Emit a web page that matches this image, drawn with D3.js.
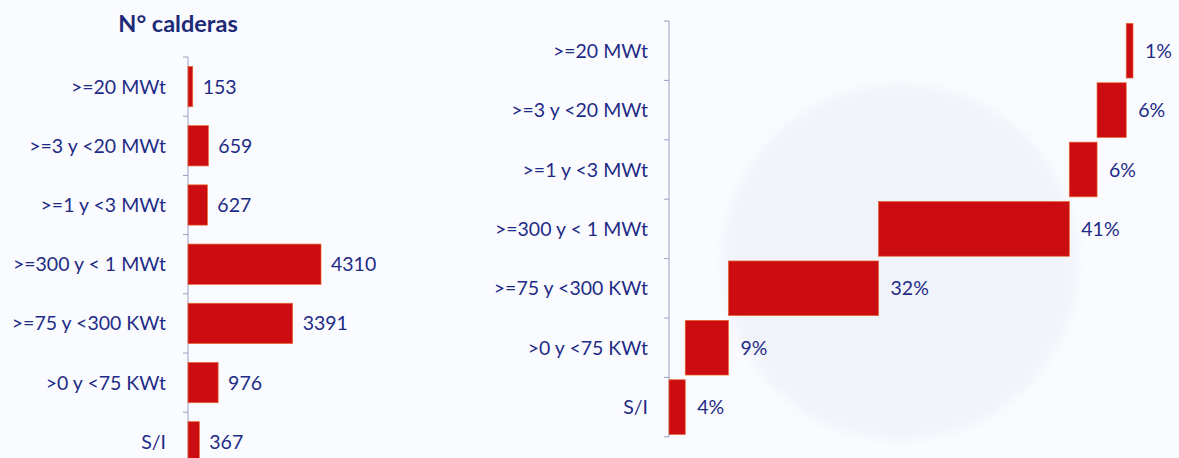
<!DOCTYPE html>
<html>
<head>
<meta charset="utf-8">
<script src="https://cdn.jsdelivr.net/npm/d3@7"></script>
<style>
  html, body { margin: 0; padding: 0; background: #fafbfe; }
  svg { display: block; }
  text { font-family: Lato, "Open Sans", sans-serif; }
</style>
</head>
<body>
<svg id="chart" width="1179" height="458"></svg>
<script>
// Boiler ranges (top to bottom) and number of boilers in each
const categories = [">=20 MWt", ">=3 y <20 MWt", ">=1 y <3 MWt", ">=300 y < 1 MWt", ">=75 y <300 KWt", ">0 y <75 KWt", "S/I"];
const counts = [153, 659, 627, 4310, 3391, 976, 367];
const titleText = "N° calderas";

const navy = "#1e2b86";
const red = "#cb0d12";
const edge = "#e8642a";

const svg = d3.select("#chart");

// faint printed disc showing through the page
const defs = svg.append("defs");
defs.append("filter").attr("id", "soft")
  .append("feGaussianBlur").attr("stdDeviation", 6);
svg.append("circle")
  .attr("cx", 900).attr("cy", 262).attr("r", 178)
  .attr("fill", "#e6e9f7").attr("opacity", 0.4)
  .attr("filter", "url(#soft)");

// ---------- Left: number of boilers per range ----------
const L = { axisX: 188, top: 57, step: 59.2 };
const yL = d3.scaleBand().domain(categories)
  .range([L.top, L.top + L.step * categories.length])
  .paddingInner(0.32).paddingOuter(0.16);
const xL = d3.scaleLinear().domain([0, 5000]).range([L.axisX, L.axisX + 154.3]);

const gL = svg.append("g");
gL.append("text")
  .attr("x", 178).attr("y", 32)
  .attr("text-anchor", "middle")
  .attr("font-size", 23.5).attr("font-weight", 700)
  .attr("fill", "#1c2a78")
  .text(titleText);

// axis line with ticks between categories
const ticksL = d3.range(categories.length + 1).map(i => L.top + i * L.step);
gL.append("line")
  .attr("x1", L.axisX).attr("x2", L.axisX)
  .attr("y1", L.top).attr("y2", L.top + L.step * categories.length)
  .attr("stroke", "#9aa1c4").attr("stroke-width", 1);
gL.selectAll(".tk").data(ticksL).join("line")
  .attr("x1", L.axisX - 5).attr("x2", L.axisX)
  .attr("y1", d => d).attr("y2", d => d)
  .attr("stroke", "#9aa1c4");

gL.selectAll(".cat").data(categories).join("text")
  .attr("x", L.axisX - 22)
  .attr("y", d => yL(d) + yL.bandwidth() / 2)
  .attr("dy", "0.36em")
  .attr("text-anchor", "end")
  .attr("font-size", 19.5).attr("fill", navy)
  .text(d => d);

gL.selectAll(".bar").data(counts).join("rect")
  .attr("x", xL(0))
  .attr("y", (d, i) => yL(categories[i]))
  .attr("width", d => xL(d) - xL(0))
  .attr("height", yL.bandwidth())
  .attr("fill", red)
  .attr("stroke", edge).attr("stroke-width", 0.7);

gL.selectAll(".val").data(counts).join("text")
  .attr("x", d => xL(d) + 10)
  .attr("y", (d, i) => yL(categories[i]) + yL.bandwidth() / 2)
  .attr("dy", "0.36em")
  .attr("font-size", 19.5).attr("fill", navy)
  .text(d => d);

// ---------- Right: share of each range, stacked from the bottom ----------
const total = d3.sum(counts);
const shares = counts.map(c => c / total);
// cumulative start of each range, accumulating from "S/I" upwards
const starts = [];
let acc = 0;
for (let i = categories.length - 1; i >= 0; i--) { starts[i] = acc; acc += shares[i]; }

const R = { axisX: 669, top: 21, step: 59.4 };
const yR = d3.scaleBand().domain(categories)
  .range([R.top, R.top + R.step * categories.length])
  .paddingInner(0.08).paddingOuter(0.04);
const xR = d3.scaleLinear().domain([0, 1]).range([R.axisX, R.axisX + 464]);

const gR = svg.append("g");
const ticksR = d3.range(categories.length + 1).map(i => R.top + i * R.step);
gR.append("line")
  .attr("x1", R.axisX).attr("x2", R.axisX)
  .attr("y1", R.top).attr("y2", R.top + R.step * categories.length)
  .attr("stroke", "#9aa1c4").attr("stroke-width", 1);
gR.selectAll(".tk").data(ticksR).join("line")
  .attr("x1", R.axisX - 5).attr("x2", R.axisX)
  .attr("y1", d => d).attr("y2", d => d)
  .attr("stroke", "#9aa1c4");

gR.selectAll(".cat").data(categories).join("text")
  .attr("x", R.axisX - 21)
  .attr("y", d => yR(d) + yR.bandwidth() / 2)
  .attr("dy", "0.36em")
  .attr("text-anchor", "end")
  .attr("font-size", 19.5).attr("fill", navy)
  .text(d => d);

gR.selectAll(".bar").data(shares).join("rect")
  .attr("x", (d, i) => xR(starts[i]))
  .attr("y", (d, i) => yR(categories[i]))
  .attr("width", d => xR(d) - xR(0))
  .attr("height", yR.bandwidth())
  .attr("fill", red)
  .attr("stroke", edge).attr("stroke-width", 0.7);

const pct = d3.format(".0%");
gR.selectAll(".val").data(shares).join("text")
  .attr("x", (d, i) => xR(starts[i] + d) + 12)
  .attr("y", (d, i) => yR(categories[i]) + yR.bandwidth() / 2)
  .attr("dy", "0.36em")
  .attr("font-size", 19.5).attr("fill", navy)
  .text(d => pct(d));
</script>
</body>
</html>
